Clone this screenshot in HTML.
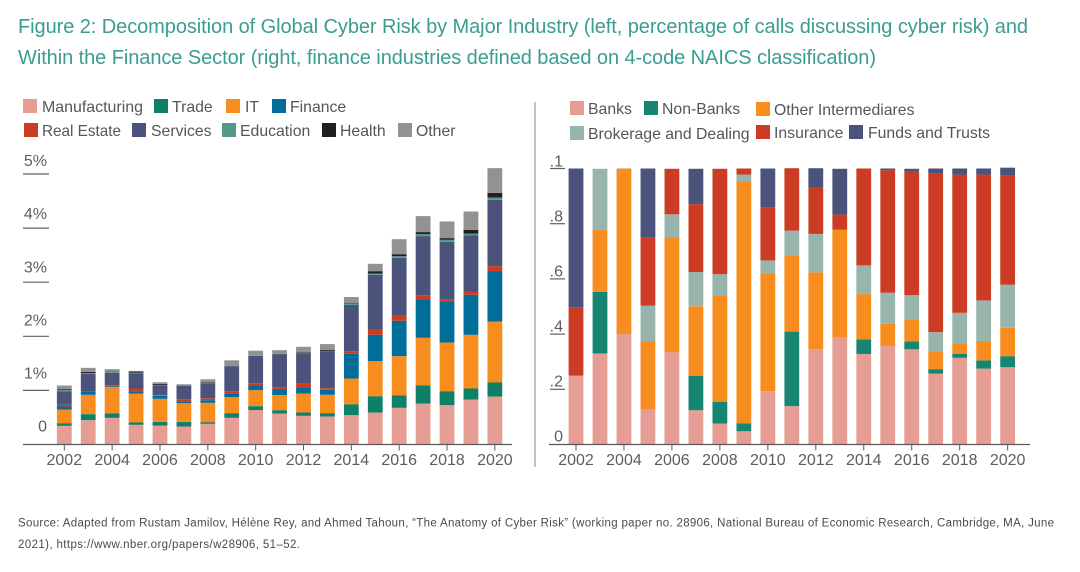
<!DOCTYPE html>
<html lang="en">
<head>
<meta charset="utf-8">
<title>Figure 2: Decomposition of Global Cyber Risk</title>
<style>
html,body{margin:0;padding:0;background:#fff;width:1080px;height:572px;overflow:hidden}
svg{display:block;font-family:"Liberation Sans",sans-serif}
.title{font-size:20px;fill:#3a9d8f}
.source{font-size:11.5px;fill:#4a4a4c}
.leg{font-size:15.8px;fill:#55565a}
.tick{font-size:16px;fill:#5c5d60}
</style>
</head>
<body>
<svg id="fig" xmlns="http://www.w3.org/2000/svg" width="1080" height="572" viewBox="0 0 1080 572">
  <rect width="1080" height="572" fill="#fff"/>
  <g>
    <text class="title" x="18" y="33" textLength="1010" lengthAdjust="spacing">Figure 2: Decomposition of Global Cyber Risk by Major Industry (left, percentage of calls discussing cyber risk) and</text>
    <text class="title" x="18" y="64" textLength="858" lengthAdjust="spacing">Within the Finance Sector (right, finance industries defined based on 4-code NAICS classification)</text>
  </g>
  <line x1="535" y1="102" x2="535" y2="467" stroke="#8a8a8c" stroke-width="1"/>
  <g>
    <g><rect x="23" y="99" width="14" height="14" fill="#e59d94"/><text class="leg" x="42" y="112" textLength="101" lengthAdjust="spacingAndGlyphs">Manufacturing</text></g>
    <g><rect x="154" y="99" width="14" height="14" fill="#0f8068"/><text class="leg" x="172" y="112">Trade</text></g>
    <g><rect x="226" y="99" width="14" height="14" fill="#f78d1f"/><text class="leg" x="245" y="112">IT</text></g>
    <g><rect x="272" y="99" width="14" height="14" fill="#006e99"/><text class="leg" x="290" y="112">Finance</text></g>
    <g><rect x="24" y="123" width="14" height="14" fill="#cc3c25"/><text class="leg" x="42" y="136" textLength="79" lengthAdjust="spacingAndGlyphs">Real Estate</text></g>
    <g><rect x="132" y="123" width="14" height="14" fill="#4b527c"/><text class="leg" x="151" y="136">Services</text></g>
    <g><rect x="222" y="123" width="14" height="14" fill="#55998a"/><text class="leg" x="240" y="136">Education</text></g>
    <g><rect x="322" y="123" width="14" height="14" fill="#231f20"/><text class="leg" x="340" y="136">Health</text></g>
    <g><rect x="398" y="123" width="14" height="14" fill="#939191"/><text class="leg" x="416" y="136">Other</text></g>
  </g>
  <g>
    <g><rect x="570" y="101" width="14" height="14" fill="#e59d94"/><text class="leg" x="588" y="114">Banks</text></g>
    <g><rect x="644" y="101" width="14" height="14" fill="#168672"/><text class="leg" x="662" y="114">Non-Banks</text></g>
    <g><rect x="756" y="102" width="14" height="14" fill="#f78d1f"/><text class="leg" x="774" y="115">Other Intermediares</text></g>
    <g><rect x="570" y="126" width="14" height="14" fill="#97b5ac"/><text class="leg" x="588" y="139">Brokerage and Dealing</text></g>
    <g><rect x="756" y="125" width="14" height="14" fill="#cc3c25"/><text class="leg" x="774" y="138">Insurance</text></g>
    <g><rect x="849" y="125" width="14" height="14" fill="#4b527c"/><text class="leg" x="868" y="138">Funds and Trusts</text></g>
  </g>
  <g>
    <text class="source" x="18" y="526.5" textLength="1036" lengthAdjust="spacing">Source: Adapted from Rustam Jamilov, Hélène Rey, and Ahmed Tahoun, “The Anatomy of Cyber Risk” (working paper no. 28906, National Bureau of Economic Research, Cambridge, MA, June</text>
    <text class="source" x="18" y="548" textLength="282" lengthAdjust="spacing">2021), https://www.nber.org/papers/w28906, 51–52.</text>
  </g>
</svg>
<script>
var years = [2002,2003,2004,2005,2006,2007,2008,2009,2010,2011,2012,2013,2014,2015,2016,2017,2018,2019,2020];
var xTickYears = [2002,2004,2006,2008,2010,2012,2014,2016,2018,2020];

/* Left panel: percentage of calls discussing cyber risk */
var leftTickValues = [5,4,3,2,1,0];
var leftTickLabels = ["5%","4%","3%","2%","1%","0"];
var manufacturing = [.345,.45,.493,.364,.351,.333,.382,.493,.635,.573,.53,.518,.542,.591,.678,.758,.727,.832,.887];
var trade = [.049,.111,.08,.043,.068,.086,.031,.086,.074,.062,.062,.062,.203,.302,.228,.333,.259,.203,.259];
var it = [.253,.357,.493,.536,.425,.345,.357,.296,.296,.277,.351,.339,.474,.647,.727,.881,.9,.992,1.128];
var finance = [.055,.062,.018,.043,.055,.037,.049,.074,.086,.105,.117,.092,.456,.487,.653,.715,.764,.739,.924];
var realEstate = [.031,.006,.025,.049,.012,.037,.037,.037,.043,.043,.062,.031,.049,.092,.092,.074,.037,.062,.099];
var services = [.246,.32,.216,.283,.185,.246,.271,.456,.505,.598,.567,.672,.856,1.017,1.072,1.091,1.06,1.041,1.226];
var education = [.025,.012,.025,.012,.006,.006,.012,.006,.006,.006,.006,.006,.018,.025,.031,.037,.037,.031,.043];
var health = [.018,.025,.006,.018,.018,.006,.012,.003,.003,.012,.012,.025,.012,.043,.037,.037,.031,.068,.086];
var other = [.068,.074,.037,.012,.031,.018,.055,.105,.086,.068,.099,.111,.117,.136,.277,.296,.308,.339,.456];

/* Right panel: shares within the finance sector */
var rightTickValues = [1,.8,.6,.4,.2,0];
var rightTickLabels = [".1",".8",".6",".4",".2","0"];
var banks = [.25,.33,.40,.127,.334,.124,.076,.048,.193,.139,.345,.388,.328,.357,.345,.257,.314,.275,.28];
var nonBanks = [0,.223,0,0,0,.125,.078,.029,0,.27,0,0,.053,0,.028,.016,.014,.03,.04];
var otherIntermediaries = [0,.224,.60,.248,.416,.252,.386,.876,.427,.274,.279,.391,.164,.08,.078,.062,.036,.07,.103];
var brokerage = [0,.222,0,.128,.084,.124,.077,.025,.047,.092,.139,0,.104,.113,.09,.072,.113,.147,.156];
var insurance = [.247,0,0,.246,.165,.246,.382,.022,.191,.226,.168,.054,.351,.444,.45,.574,.501,.456,.396];
var fundsTrusts = [.503,0,0,.251,0,.128,0,0,.142,0,.07,.166,0,.006,.008,.019,.022,.022,.028];

var leftSeries = [
  {key:"manufacturing", values:manufacturing, color:"#e59d94"},
  {key:"trade", values:trade, color:"#0f8068"},
  {key:"it", values:it, color:"#f78d1f"},
  {key:"finance", values:finance, color:"#006e99"},
  {key:"real-estate", values:realEstate, color:"#cc3c25"},
  {key:"services", values:services, color:"#4b527c"},
  {key:"education", values:education, color:"#55998a"},
  {key:"health", values:health, color:"#231f20"},
  {key:"other", values:other, color:"#939191"}
];
var rightSeries = [
  {key:"banks", values:banks, color:"#e59d94"},
  {key:"non-banks", values:nonBanks, color:"#168672"},
  {key:"other-intermediaries", values:otherIntermediaries, color:"#f78d1f"},
  {key:"brokerage", values:brokerage, color:"#97b5ac"},
  {key:"insurance", values:insurance, color:"#cc3c25"},
  {key:"funds-trusts", values:fundsTrusts, color:"#4b527c"}
];

var svg = document.getElementById("fig");
var NS = "http://www.w3.org/2000/svg";
var BASE_Y = 444.5;

function make(tag, parent, attrs) {
  var el = document.createElementNS(NS, tag);
  for (var k in attrs) el.setAttribute(k, attrs[k]);
  parent.appendChild(el);
  return el;
}

function drawPanel(panelName, series, xOf, yOf, labelYOf, tickValues, tickLabels, layout) {
  var g = make("g", svg, {});
  
  

  tickValues.forEach(function (v, i) {
    if (v !== 0) {
      var tl = make("line", g, {x1:layout.tickX1, x2:layout.tickX2, y1:yOf(v), y2:yOf(v), stroke:"#626264", "stroke-width":1.2});
      
      
    }
    var label = make("text", g, {"class":"tick", x:layout.labelX, y:labelYOf(v), "text-anchor":"end"});
    label.textContent = tickLabels[i];
    
    
  });

  years.forEach(function (year, yi) {
    var cum = 0;
    series.forEach(function (s) {
      var v = s.values[yi];
      if (v <= 0) return;
      var top = yOf(cum + v), bottom = yOf(cum);
      var bar = make("rect", g, {x:xOf(year) - 7.4, y:top, width:14.8, height:bottom - top, fill:s.color});
      
      
      cum += v;
    });
  });

  var axis = make("line", g, {x1:layout.axisX1, x2:layout.axisX2, y1:BASE_Y, y2:BASE_Y, stroke:"#58595b", "stroke-width":1.2});
  
  

  xTickYears.forEach(function (year) {
    var mark = make("line", g, {x1:xOf(year), x2:xOf(year), y1:BASE_Y, y2:BASE_Y + 6, stroke:"#58595b", "stroke-width":1});
    
    
    var label = make("text", g, {"class":"tick", x:xOf(year), y:465, "text-anchor":"middle"});
    label.textContent = String(year);
    
    
  });
}

function xLeft(year) { return 64.3 + (year - 2002) * 23.92; }
function yLeft(v) { return BASE_Y - v * 54.1; }
function labelYLeft(v) { return 431.7 - v * 53.15; }
function xRight(year) { return 576 + (year - 2002) * 23.98; }
function yRight(v) { return BASE_Y - v * 276; }
function labelYRight(v) { return 441.7 - v * 275; }

drawPanel("left", leftSeries, xLeft, yLeft, labelYLeft, leftTickValues, leftTickLabels,
  {tickX1:23, tickX2:49, labelX:47, axisX1:23, axisX2:512});
drawPanel("right", rightSeries, xRight, yRight, labelYRight, rightTickValues, rightTickLabels,
  {tickX1:550, tickX2:565, labelX:563, axisX1:549, axisX2:1030});
</script>
</body>
</html>
